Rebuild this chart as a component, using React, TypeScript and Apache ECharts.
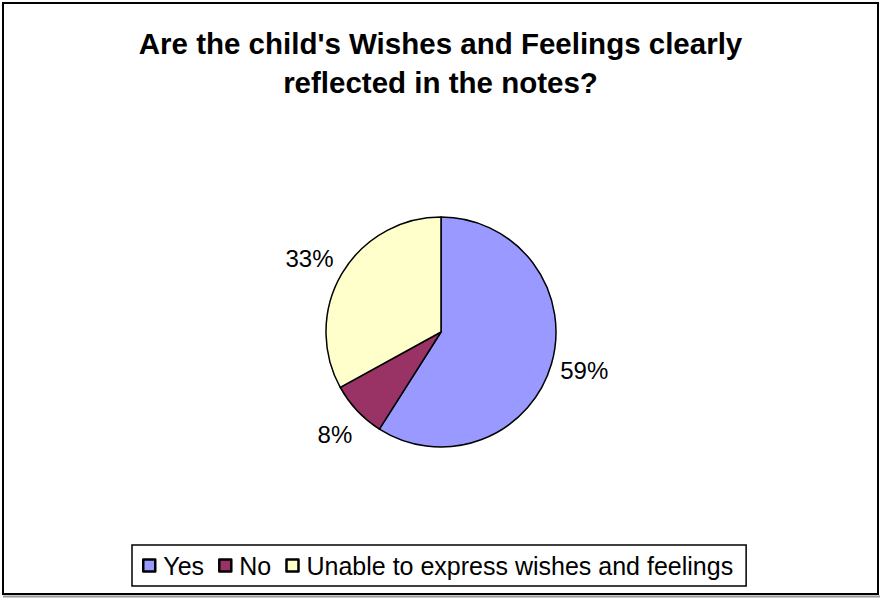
import React, { useEffect, useRef } from "react";
import * as echarts from "echarts";

const titleLines = ["Are the child's Wishes and Feelings clearly", "reflected in the notes?"];
const categories = ["Yes", "No", "Unable to express wishes and feelings"];
const values = [59, 8, 33];
const colors = ["#9999FF", "#993366", "#FFFFCC"];
const labelOffsets = [[0, 5], [3, 21], [0, -13]];

export default function App() {
  const ref = useRef<HTMLDivElement>(null);
  useEffect(() => {
    if (!ref.current) return;
    const chart = echarts.init(ref.current, null, { renderer: "svg" });
    chart.setOption({
      animation: false,
      backgroundColor: "#ffffff",
      title: {
        text: titleLines.join("\n"),
        left: "center",
        top: 19,
        textStyle: {
          fontFamily: "Liberation Sans, Arial, sans-serif",
          fontWeight: "bold",
          fontSize: 29.5,
          lineHeight: 39,
          color: "#000",
        },
      },
      legend: {
        data: categories,
        left: 132,
        top: 545,
        orient: "horizontal",
        icon: "rect",
        itemWidth: 12,
        itemHeight: 12,
        itemGap: 14,
        padding: [8, 13, 8, 10],
        borderColor: "#000",
        borderWidth: 1.5,
        itemStyle: { borderColor: "#000", borderWidth: 2.5 },
        textStyle: {
          fontFamily: "Liberation Sans, Arial, sans-serif",
          fontSize: 25,
          color: "#000",
          padding: [0, 0, 0, 3],
        },
      },
      graphic: [
        {
          type: "rect",
          shape: { x: 3, y: 3, width: 875, height: 591 },
          style: { fill: "none", stroke: "#000", lineWidth: 2 },
          silent: true,
        },
        {
          type: "line",
          shape: { x1: 3, y1: 596.5, x2: 880, y2: 596.5 },
          style: { stroke: "#999", lineWidth: 2 },
          silent: true,
        },
      ],
      series: [
        {
          type: "pie",
          center: [441, 332],
          radius: 115,
          startAngle: 90,
          clockwise: true,
          data: categories.map((c, i) => ({
            name: c,
            value: values[i],
            itemStyle: { color: colors[i] },
            label: { offset: labelOffsets[i] },
          })),
          itemStyle: { borderColor: "#000", borderWidth: 1.5 },
          label: {
            show: true,
            position: "outside",
            formatter: (p: any) => Math.round(p.percent) + "%",
            fontFamily: "Liberation Sans, Arial, sans-serif",
            fontSize: 24,
            color: "#000",
          },
          labelLine: { show: false, length: 4, length2: 0 },
          emphasis: { disabled: true },
        },
      ],
    });
    return () => chart.dispose();
  }, []);
  return (
    <div
      ref={ref}
      style={{ position: "fixed", left: 0, top: 0, width: 881, height: 599 }}
    />
  );
}
